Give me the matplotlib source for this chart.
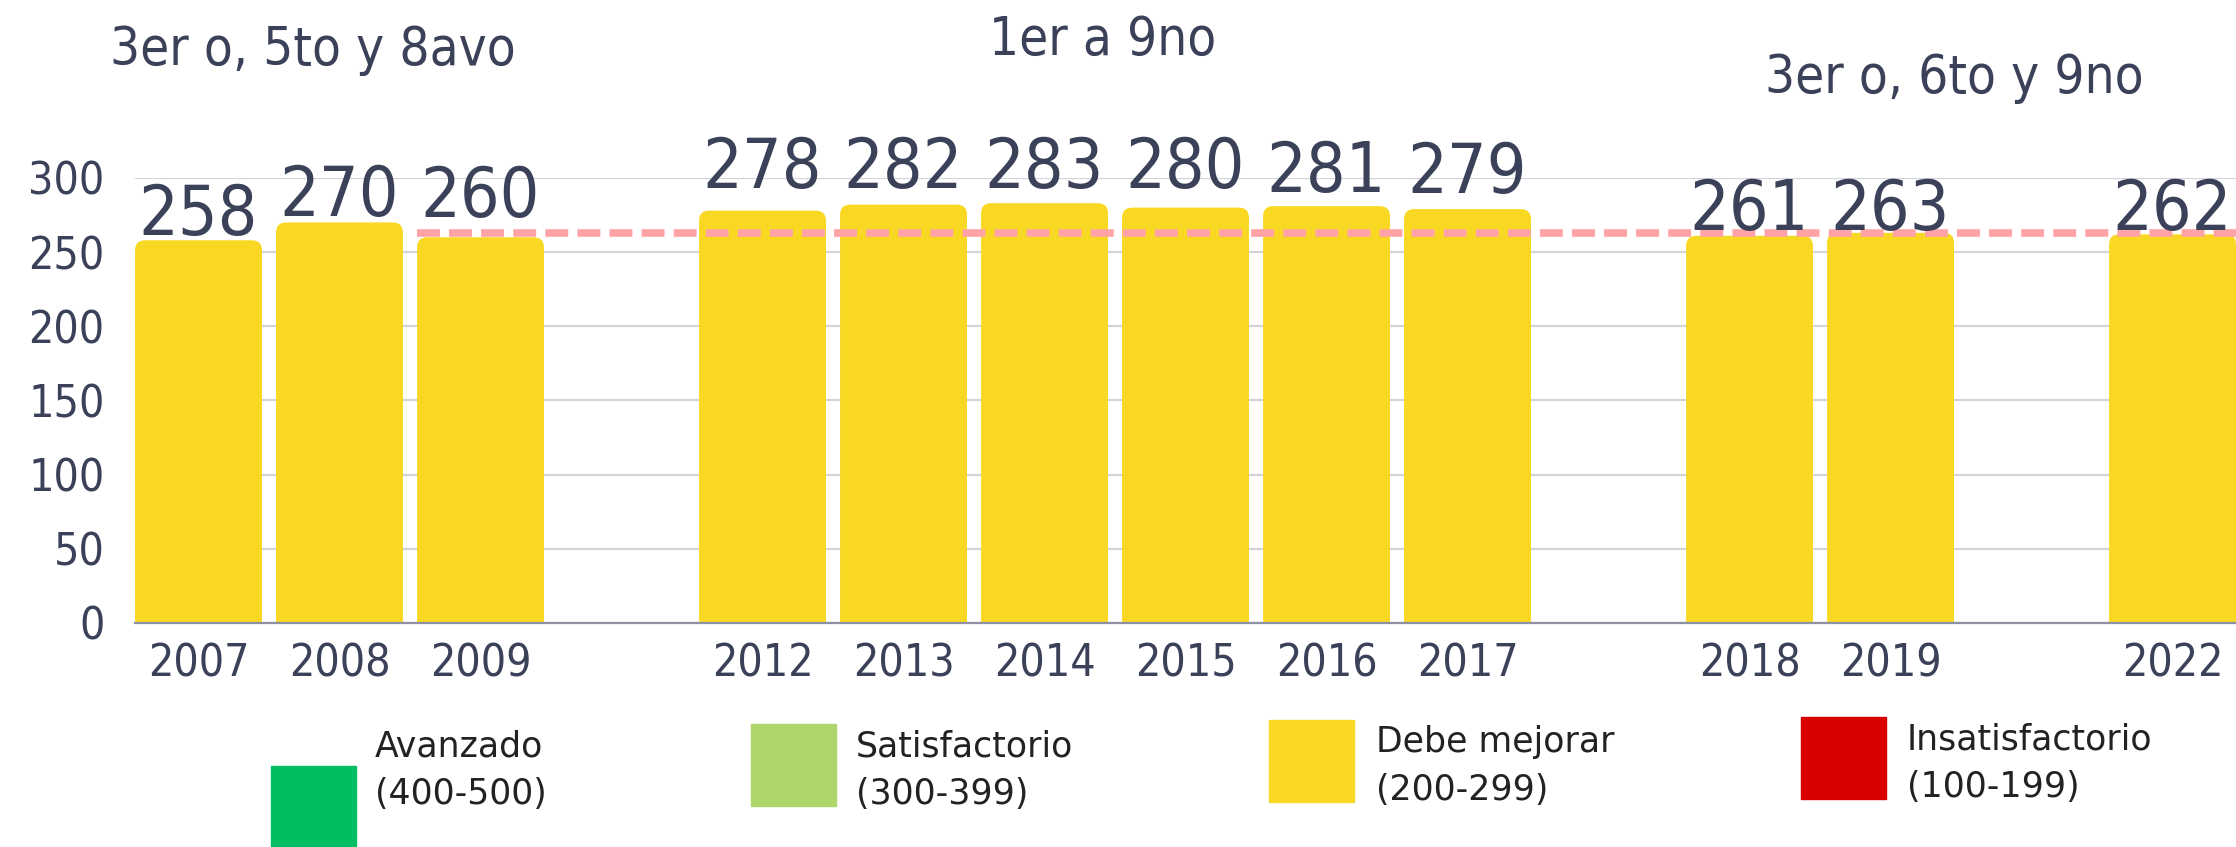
import matplotlib
matplotlib.use("Agg")
import numpy as np
from matplotlib import pyplot as plt
from matplotlib.patches import Rectangle, FancyBboxPatch

# data
years = ["2007", "2008", "2009", "", "2012", "2013", "2014", "2015", "2016",
         "2017", "", "2018", "2019", "", "2022"]
scores = [258, 270, 260, None, 278, 282, 283, 280, 281, 279, None, 261, 263, None, 262]
yticks = [0, 50, 100, 150, 200, 250, 300]
ref_value = 263
ref_start = 2  # starts at the 2009 bar
group_titles = ["3er o, 5to y 8avo", "1er a 9no", "3er o, 6to y 9no"]
levels = ["Avanzado\n(400-500)", "Satisfactorio\n(300-399)",
          "Debe mejorar\n(200-299)", "Insatisfactorio\n(100-199)"]
level_colors = ["#00BF63", "#AED66A", "#F9D823", "#D90000"]

# how far each value label sits above its bar (labels were placed by hand)
label_lift = [3.6, 4.4, 13.8, 15.3, 11.3, 10.3, 13.3, 9.6, 11, 4, 2, 3]

NAVY = "#3B4159"
BAR = "#F9D823"
FONT = ["DejaVu Sans"]

fig = plt.figure(figsize=(22.36, 8.47), dpi=100)
ax = fig.add_axes([0.0604, 0.2645, 0.9396, 0.5254])

idx = [i for i, v in enumerate(scores) if v is not None]
vals = [scores[i] for i in idx]
xmax = len(years) - 1 + 0.45
ax.set_xlim(-0.45, xmax)
ax.set_ylim(0, 300)

bars = ax.bar(idx, vals, width=0.9, color=BAR, zorder=2)
# rounded top corners
px_x = fig.get_figwidth() * 100 * 0.9396 / (xmax + 0.45)
px_y = fig.get_figheight() * 100 * 0.5254 / 300
for b in bars:
    b.set_visible(False)
    bx, bw, bh = b.get_x(), b.get_width(), b.get_height()
    ax.add_patch(FancyBboxPatch((bx, -20), bw, bh + 20,
                                boxstyle="round,pad=0,rounding_size=%f" % (10 / px_x),
                                mutation_aspect=px_x / px_y, facecolor=BAR,
                                edgecolor="none", zorder=2))

for i, v, lift in zip(idx, vals, label_lift):
    ax.text(i, v + lift, str(v), ha="center", va="baseline", fontsize=50,
            color=NAVY, family=FONT, stretch="condensed", clip_on=False, zorder=4)

ax.hlines(ref_value, ref_start - 0.45, xmax, colors="#FFA3A6",
          linestyles=(0, (3, 1.2)), linewidth=5.5, zorder=3)

ax.set_yticks(yticks)
ax.set_xticks(idx)
ax.set_xticklabels([years[i] for i in idx])
ax.grid(axis="y", color="#D3D4DA", linewidth=1.6, zorder=0)
ax.set_axisbelow(True)
for s in ["top", "right", "left"]:
    ax.spines[s].set_visible(False)
ax.spines["bottom"].set_color("#8E91A3")
ax.spines["bottom"].set_linewidth(1.6)
ax.tick_params(axis="both", length=0, colors=NAVY)
ax.tick_params(axis="y", pad=22)
ax.tick_params(axis="x", pad=14)
for lab in ax.get_yticklabels() + ax.get_xticklabels():
    lab.set_family(FONT)
    lab.set_stretch("condensed")
    lab.set_fontweight("light")
    lab.set_fontsize(32)

# group titles
title_pos = [(0.140, 0.941), (0.493, 0.953), (0.874, 0.908)]
for t, (tx, ty) in zip(group_titles, title_pos):
    fig.text(tx, ty, t, ha="center", va="center", fontsize=38, color=NAVY,
             family=FONT, stretch="condensed")

# level legend
sq_pos = [(271, 766), (751, 724), (1269, 720), (1801, 717)]
txt_x = [375, 856, 1376, 1907]
txt_y = [770, 770, 766, 763]
W, H = 2236.0, 847.0
for (sx, sy), tx, ty, lab, c in zip(sq_pos, txt_x, txt_y, levels, level_colors):
    fig.add_artist(Rectangle((sx / W, 1 - (sy + 82) / H), 85 / W, 82 / H,
                             transform=fig.transFigure, color=c))
    fig.text(tx / W, 1 - ty / H, lab, ha="left", va="center", fontsize=25,
             color="#222222", family=FONT, linespacing=1.5)

fig.savefig("out.png", dpi=100)
